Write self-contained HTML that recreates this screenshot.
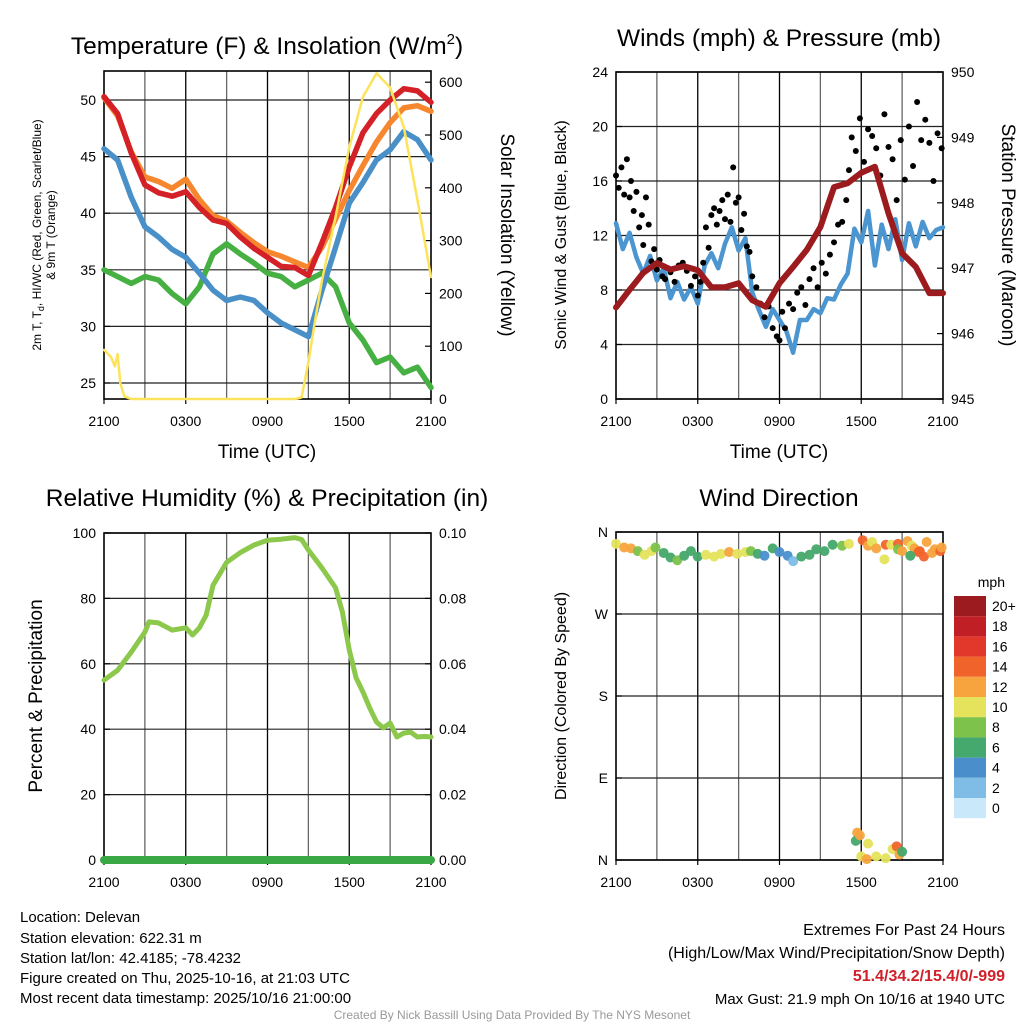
<!DOCTYPE html>
<html><head><meta charset="utf-8"><style>
html,body{margin:0;padding:0;background:#fff;}
svg{display:block;font-family:"Liberation Sans",Arial,sans-serif;}
</style></head><body>
<svg id="s" width="1024" height="1024" viewBox="0 0 1024 1024" xmlns="http://www.w3.org/2000/svg">
<g id="g"></g>
<text x="267" y="54" font-size="24.5" text-anchor="middle">Temperature (F) &amp; Insolation (W/m<tspan font-size="15" dy="-10">2</tspan><tspan dy="10">)</tspan></text>
<text x="779" y="46" font-size="24.5" text-anchor="middle">Winds (mph) &amp; Pressure (mb)</text>
<text x="267" y="506" font-size="24.5" text-anchor="middle">Relative Humidity (%) &amp; Precipitation (in)</text>
<text x="779" y="506" font-size="24.5" text-anchor="middle">Wind Direction</text>
<text transform="translate(41,235) rotate(-90)" font-size="12" text-anchor="middle">2m T, T<tspan font-size="9" dy="3">d</tspan><tspan dy="-3">, HI/WC (Red, Green, Scarlet/Blue)</tspan></text>
<text transform="translate(55,235) rotate(-90)" font-size="12" text-anchor="middle">&amp; 9m T (Orange)</text>
<text transform="translate(501,235) rotate(90)" font-size="19" text-anchor="middle">Solar Insolation (Yellow)</text>
<text transform="translate(566,235) rotate(-90)" font-size="16" text-anchor="middle">Sonic Wind &amp; Gust (Blue, Black)</text>
<text transform="translate(1002,235) rotate(90)" font-size="19" text-anchor="middle">Station Pressure (Maroon)</text>
<text transform="translate(42,696) rotate(-90)" font-size="19" text-anchor="middle">Percent &amp; Precipitation</text>
<text transform="translate(566,696) rotate(-90)" font-size="16" text-anchor="middle">Direction (Colored By Speed)</text>
<text x="267" y="458" font-size="19" text-anchor="middle">Time (UTC)</text>
<text x="779" y="458" font-size="19" text-anchor="middle">Time (UTC)</text>
<text x="1005" y="587" font-size="14" text-anchor="end">mph</text>
<g font-size="15">
<text x="20" y="922">Location: Delevan</text>
<text x="20" y="943">Station elevation: 622.31 m</text>
<text x="20" y="963">Station lat/lon: 42.4185; -78.4232</text>
<text x="20" y="983">Figure created on Thu, 2025-10-16, at 21:03 UTC</text>
<text x="20" y="1003">Most recent data timestamp: 2025/10/16 21:00:00</text>
</g>
<g font-size="16" text-anchor="end">
<text x="1005" y="935">Extremes For Past 24 Hours</text>
<text x="1005" y="958">(High/Low/Max Wind/Precipitation/Snow Depth)</text>
<text x="1005" y="981" fill="#d0202a" font-weight="bold">51.4/34.2/15.4/0/-999</text>
<text x="1005" y="1004" font-size="15">Max Gust: 21.9 mph On 10/16 at 1940 UTC</text>
</g>
<text x="512" y="1019" font-size="12" fill="#999" text-anchor="middle">Created By Nick Bassill Using Data Provided By The NYS Mesonet</text>
</svg>
<script>
// ---- data ----
const hours = [0,1,2,3,4,5,6,7,8,9,10,11,12,13,14,15,16,17,18,19,20,21,22,23,24];
const tempRed = [50.3,48.8,45.3,42.5,41.8,41.5,41.9,40.5,39.4,39.1,37.9,36.9,36.1,35.3,35.2,34.5,37.4,40.5,44.1,47.1,48.8,50.0,51.0,50.8,49.8];
const tempOrange = [50.2,48.6,45.4,43.2,42.8,42.2,43.0,41.2,39.8,39.3,38.3,37.4,36.6,36.2,35.7,35.2,37.0,39.5,42.0,44.2,46.3,48.0,49.3,49.5,49.0];
const dewBlue = [45.7,44.7,41.4,38.8,37.9,36.8,36.1,34.7,33.2,32.3,32.6,32.3,31.2,30.3,29.7,29.1,33.2,37.0,40.9,42.7,44.7,45.6,47.2,46.5,44.7];
const hiGreen = [35.0,34.4,33.8,34.4,34.1,32.9,32.0,33.5,36.4,37.3,36.4,35.6,34.7,34.4,33.5,34.1,34.7,33.5,30.3,28.8,26.8,27.3,25.9,26.4,24.6];
const solarHours = [0,0.5,0.8,1.0,1.2,1.5,2,4,8,12,14,14.5,15,15.5,16,17,18,19,20,21,22,23,24];
const solarVals = [93,80,62,85,30,5,0,0,0,0,0,3,70,150,225,345,477,572,617,590,515,377,231];
const sonicHours = [];
for (let i=0;i<=48;i++) sonicHours.push(i/2);
const sonicVals = [12.9,11.0,12.2,10.4,9.2,10.5,8.7,9.6,7.4,8.6,7.3,8.2,7.0,9.8,10.7,9.6,11.4,12.6,10.9,11.8,7.8,6.5,5.3,6.6,5.8,5.0,3.4,5.8,5.8,6.6,6.3,7.4,7.3,8.4,9.2,12.5,11.5,13.8,9.8,12.8,11.0,13.2,10.2,12.9,11.2,13.0,11.8,12.4,12.6];
const gustHours = [0.0,0.2,0.4,0.6,0.8,1.0,1.1,1.3,1.5,1.7,1.9,2.0,2.2,2.4,2.6,2.8,3.0,3.2,3.4,3.6,3.8,4.0,4.3,4.6,4.9,5.2,5.5,5.8,6.0,6.2,6.4,6.6,6.8,7.0,7.2,7.4,7.6,7.8,8.0,8.2,8.4,8.6,8.8,9.0,9.2,9.4,9.6,9.8,10.0,10.3,10.6,10.9,11.2,11.5,11.8,12.0,12.2,12.4,12.7,13.0,13.3,13.6,13.9,14.2,14.5,14.8,15.1,15.4,15.7,16.0,16.3,16.6,16.9,17.1,17.3,17.6,17.9,18.2,18.5,18.8,19.1,19.4,19.7,20.0,20.3,20.6,20.9,21.2,21.5,21.8,22.1,22.4,22.7,23.0,23.3,23.6,23.9];
const gustVals = [16.4,15.5,17.0,15.0,17.6,14.8,16.0,13.8,15.2,12.6,13.5,11.3,14.8,12.8,10.1,11.0,9.5,10.2,9.0,8.8,9.6,9.3,8.6,9.8,10.0,9.4,8.3,9.0,7.6,8.6,10.0,12.6,11.1,13.5,14.0,12.8,13.8,14.6,13.2,15.0,13.0,17.0,14.4,14.8,12.4,13.6,11.2,10.8,9.0,8.2,7.0,6.0,6.8,5.2,4.6,4.3,6.4,5.2,7.0,6.6,7.8,8.2,6.9,8.8,9.6,8.2,10.0,9.2,10.6,11.5,12.8,13.0,14.6,16.8,19.2,18.2,20.6,17.4,19.8,19.3,18.4,16.4,20.9,18.5,17.6,14.6,19.0,16.1,20.0,17.1,21.8,19.0,20.5,18.8,16.0,19.5,18.4];
const pressHours = hours;
const pressVals = [946.40,946.67,946.93,947.08,946.98,947.03,946.97,946.71,946.71,946.77,946.51,946.41,946.77,947.02,947.28,947.63,948.24,948.30,948.46,948.55,947.84,947.23,947.02,946.62,946.62];
const rhHours = [0,1,2,3,3.3,4,5,6,6.5,7,7.5,8,9,10,11,12,13,14,14.5,15,16,17,17.5,18,18.5,19,19.5,20,20.5,21,21.5,22,22.5,23,23.5,24];
const rhVals = [55,58,63.6,69.7,72.8,72.5,70.3,71,68.8,71,74.9,84,91,94,96.3,97.8,98.1,98.6,98,94.8,89.3,83.2,75.8,64.2,55.7,51.4,46.5,42.2,40.4,41.9,37.6,38.8,39.1,37.6,37.8,37.6];
const precipHours = [0,24];
const precipVals = [0,0];
const dirHours = [0,0.6,1.1,1.6,2.1,2.6,2.9,3.5,4.0,4.5,5.0,5.5,6.0,6.6,7.2,7.7,8.3,8.9,9.5,9.9,10.4,10.9,11.5,12.0,12.6,13.0,13.6,14.2,14.7,15.3,15.9,16.6,17.1,18.1,18.5,18.8,19.1,19.8,19.7,20.2,20.7,20.7,21.0,21.4,21.7,21.9,22.3,22.6,22.8,23.2,23.4,23.8,23.9,22.2,21.6,17.7,17.6,17.9,18.5,18.0,18.4,19.1,19.8,20.3,20.6,20.8,21.0];
const dirVals = [347,343,342,339,335,339,343,337,332,329,334,339,333,335,333,336,338,336,338,339,336,334,342,338,334,328,333,335,341,339,346,345,347,351,345,349,342,346,330,346,347,341,339,350,345,342,339,333,349,337,341,339,343,338,334,30,21,27,18,4,1,4,2,12,15,6,9];
const dirSpeeds = [11,12,12,9,10,10,8,7,7,8,7,6,6,10,10,10,12,10,10,8,6,4,6,4,4,3,6,6,7,6,6,8,10,14,12,10,12,14,10,10,15,8,12,12,10,12,14,15,12,12,12,14,12,15,7,12,6,12,10,10,12,10,10,10,14,12,7];
const cbLabels = ["20+","18","16","14","12","10","8","6","4","2","0"];
const cbColors = ["#9b1b1e","#c01f26","#e2372b","#f0642b","#f7a43e","#e5e35c","#7cc24b","#45a86c","#4a8fcb","#80bde6","#c9e9fa"];
const xTickLabels = ["2100","0300","0900","1500","2100"];
const tempTicks = [25,30,35,40,45,50];
const solarTicks = [0,100,200,300,400,500,600];
const windTicks = [0,4,8,12,16,20,24];
const pressTicks = [945,946,947,948,949,950];
const rhTicks = [0,20,40,60,80,100];
const precipTicks = ["0.00","0.02","0.04","0.06","0.08","0.10"];
const dirTicks = [360,270,180,90,0];
const dirTickLabels = ["N","W","S","E","N"];

const NS="http://www.w3.org/2000/svg";
const G=document.getElementById('g');
function mk(tag,attrs,parent){const e=document.createElementNS(NS,tag);for(const k in attrs)e.setAttribute(k,attrs[k]);(parent||G).appendChild(e);return e;}
function speedColor(s){let i=Math.min(10,Math.floor(s/2));return cbColors[10-i];}

const panels={
 temp:{x0:104,x1:431,t:71,b:399},
 wind:{x0:616,x1:943,t:72,b:399},
 rh:{x0:104,x1:431,t:533,b:860},
 dir:{x0:616,x1:943,t:532,b:860}
};
function xs(p,h){return p.x0+(p.x1-p.x0)*h/24;}
const yTemp=v=>100+(50-v)*11.32;
const ySolar=v=>399-v*0.528;
const yWind=v=>399-v*13.625;
const yPress=v=>399-(v-945)*65.4;
const yRh=v=>860-v*3.27;
const yPrecip=v=>860-v*3270;
const yDir=v=>860-v*328/360;

function frame(p,name,hy,lTicks,lfn,lLab,rTicks,rfn,rLab){
  const g=mk('g',{});
  
  
  for(let h=3;h<24;h+=3){
    const x=xs(p,h);
    const l=mk('line',{x1:x,x2:x,y1:p.t,y2:p.b,stroke:(h%6==0)?'#000':'#666','stroke-width':1.3},g);
    
    
  }
  hy.forEach(y=>{
    const l=mk('line',{x1:p.x0,x2:p.x1,y1:y,y2:y,stroke:'#222','stroke-width':1.2},g);
    
    
  });
  const fr=mk('rect',{x:p.x0,y:p.t,width:p.x1-p.x0,height:p.b-p.t,fill:'none',stroke:'#000','stroke-width':1.6});
  
  
  lTicks.forEach((v,i)=>{
    const y=lfn(v);
    mk('line',{x1:p.x0,x2:p.x0+6,y1:y,y2:y,stroke:'#000','stroke-width':1.2});
    const t=mk('text',{x:p.x0-8,y:y+5,'font-size':14,'text-anchor':'end'});
    t.textContent=lLab?lLab[i]:v;
    
    
  });
  if(rTicks){rTicks.forEach((v,i)=>{
    const y=rfn(v);
    mk('line',{x1:p.x1,x2:p.x1-6,y1:y,y2:y,stroke:'#000','stroke-width':1.2});
    const t=mk('text',{x:p.x1+8,y:y+5,'font-size':14,'text-anchor':'start'});
    t.textContent=rLab?rLab[i]:v;
    
    
  });}
  xTickLabels.forEach((lab,i)=>{
    const x=xs(p,i*6);
    mk('line',{x1:x,x2:x,y1:p.b,y2:p.b+5,stroke:'#000','stroke-width':1.2});
    const t=mk('text',{x:x,y:p.b+27,'font-size':14,'text-anchor':'middle'});
    t.textContent=lab;
    
    
  });
}
function line(p,hs,vs,fn,color,w,name){
  const d=hs.map((h,i)=>(i?'L':'M')+xs(p,h).toFixed(1)+','+fn(vs[i]).toFixed(1)).join('');
  const e=mk('path',{d:d,fill:'none',stroke:color,'stroke-width':w,'stroke-linejoin':'round','stroke-linecap':'round'});
  
  
}

// temp panel
let P=panels.temp;
frame(P,'temp',tempTicks.map(yTemp),tempTicks,yTemp,null,solarTicks,ySolar,null);
line(P,hours,hiGreen,yTemp,'#46b043',5.5,'heat-index-line');
line(P,hours,dewBlue,yTemp,'#4a90c8',5.5,'dewpoint-line');
line(P,hours,tempOrange,yTemp,'#f7872e',5.5,'temp-9m-line');
line(P,hours,tempRed,yTemp,'#d42027',5.5,'temp-2m-line');
line(P,solarHours,solarVals,ySolar,'#fde35a',2.5,'solar-insolation-line');

// wind panel
P=panels.wind;
frame(P,'wind',windTicks.map(yWind),windTicks,yWind,null,pressTicks,yPress,null);
line(P,sonicHours,sonicVals,yWind,'#4b95d0',4.5,'sonic-wind-line');
gustHours.forEach((h,i)=>{
  const c=mk('circle',{cx:xs(P,h),cy:yWind(gustVals[i]),r:3,fill:'#000'});
  
  
});
line(P,pressHours,pressVals,yPress,'#9b1b1e',6,'pressure-line');

// rh panel
P=panels.rh;
frame(P,'rh',rhTicks.map(yRh),rhTicks,yRh,null,precipTicks.map(Number),yPrecip,precipTicks);
line(P,rhHours,rhVals,yRh,'#8cc84b',5,'relative-humidity-line');
line(P,precipHours,precipVals,yPrecip,'#3aa845',8,'precipitation-line');

// wind dir panel
P=panels.dir;
frame(P,'dir',dirTicks.map(yDir),dirTicks,yDir,dirTickLabels,null);
dirHours.forEach((h,i)=>{
  const c=mk('circle',{cx:xs(P,h),cy:yDir(dirVals[i]),r:5,fill:speedColor(dirSpeeds[i]),'fill-opacity':0.95});
  
  
});
// colorbar
const cb=mk('g',{});


cbColors.forEach((c,i)=>{
  const y=596+i*20.2;
  mk('rect',{x:954,y:y,width:32,height:20.2,fill:c},cb);
  const t=mk('text',{x:992,y:y+15,'font-size':14},cb);
  t.textContent=cbLabels[i];
  
  
});
</script>
</body></html>
